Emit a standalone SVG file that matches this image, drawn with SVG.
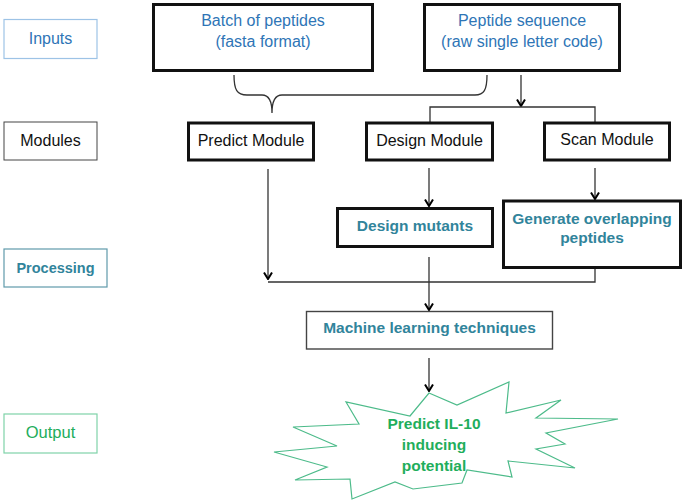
<svg xmlns="http://www.w3.org/2000/svg" width="685" height="503" viewBox="0 0 685 503">
<style>
text{font-family:"Liberation Sans",Arial,sans-serif;text-anchor:middle}
.blue{fill:#2e75b6;font-size:16px}
.blk{fill:#111;font-size:16px}
.teal{fill:#31849b;font-size:15.5px;font-weight:bold}
.green{fill:#1fae5c;font-size:15.5px;font-weight:bold}
.thick{fill:#fff;stroke:#111;stroke-width:3}
.thin{fill:#fff;stroke:#444;stroke-width:1.4}
.con{fill:none;stroke:#333;stroke-width:1.3}
</style>
<defs>
<marker id="arr" viewBox="-8 -5 9 10" refX="0" refY="0" markerWidth="9" markerHeight="10" markerUnits="userSpaceOnUse" orient="auto">
<path d="M-6.5,-4 L0,0 L-6.5,4" fill="none" stroke="#000" stroke-width="2"/>
</marker>
</defs>
<rect width="685" height="503" fill="#fff"/>

<g id="label-inputs">
<rect x="4" y="19.5" width="93" height="39" fill="#fff" stroke="#9dc3e6" stroke-width="1.2"/>
<text x="50.5" y="44" class="blue">Inputs</text>
</g>
<g id="label-modules">
<rect x="4" y="122" width="93" height="38" fill="#fff" stroke="#444" stroke-width="1"/>
<text x="50.5" y="146" class="blk">Modules</text>
</g>
<g id="label-processing">
<rect x="4" y="249" width="103" height="38" fill="#fff" stroke="#5f9aab" stroke-width="1.2"/>
<text x="55.5" y="273" class="teal" style="font-size:14.5px">Processing</text>
</g>
<g id="label-output">
<rect x="4" y="414" width="93" height="39" fill="#fff" stroke="#7fd3a8" stroke-width="1.2"/>
<text x="50.5" y="438" style="fill:#22ad5c;font-size:16.5px">Output</text>
</g>

<g id="connectors">
<path class="con" d="M234,75 C234,90 237,95 247,95 L262,95 C269,95 272,101 272,113 C272,101 275,95 282,95 L475,95 C484,95 487,90 487,75"/>
<path class="con" d="M521,75 V106" marker-end="url(#arr)"/>
<path class="con" d="M430,122 V107 H595 V122"/>
<path class="con" d="M268,169 V279" marker-end="url(#arr)"/>
<path class="con" d="M268,282 H595 V268"/>
<path class="con" d="M429,168 V206" marker-end="url(#arr)"/>
<path class="con" d="M595,168 V199" marker-end="url(#arr)"/>
<path class="con" d="M429,257 V310" marker-end="url(#arr)"/>
<path class="con" d="M429,358 V391" marker-end="url(#arr)"/>
</g>

<g id="batch">
<rect x="153.5" y="4.5" width="219" height="66" class="thick"/>
<text x="263" y="26" class="blue">Batch of peptides</text>
<text x="263" y="47" class="blue">(fasta format)</text>
</g>
<g id="peptide-seq">
<rect x="424.5" y="4.5" width="195" height="66" class="thick"/>
<text x="522" y="26" class="blue">Peptide sequence</text>
<text x="522" y="47" class="blue">(raw single letter code)</text>
</g>

<g id="predict-module">
<rect x="188.5" y="123" width="125" height="37" class="thick"/>
<text x="251" y="146" class="blk">Predict Module</text>
</g>
<g id="design-module">
<rect x="366.5" y="123" width="126" height="37" class="thick"/>
<text x="429.5" y="146" class="blk">Design Module</text>
</g>
<g id="scan-module">
<rect x="544.5" y="123" width="125" height="37" class="thick"/>
<text x="607" y="145" class="blk">Scan Module</text>
</g>

<g id="design-mutants">
<rect x="337.5" y="208.5" width="155" height="38" class="thick"/>
<text x="415" y="231" class="teal">Design mutants</text>
</g>
<g id="generate">
<rect x="503.5" y="201" width="177" height="66.5" class="thick"/>
<text x="592" y="223.5" class="teal">Generate overlapping</text>
<text x="592" y="243" class="teal">peptides</text>
</g>

<g id="ml">
<rect x="306.5" y="311.5" width="246" height="37.5" class="thin"/>
<text x="429.5" y="332.5" class="teal">Machine learning techniques</text>
</g>

<g id="output-star">
<polygon points="429,393 457,405 509,382 506,413 561,400 536,418 618,419 546,433 565,444 536,449 575,468 508,461 512,477 467,470 462,483 413,489 395,482 352,499 350,479 295,480 327,467 274,452 337,446 293,427 359,424 346,402 410,416" fill="#fff" stroke="#4dbb8a" stroke-width="1.2"/>
<text x="434" y="429" class="green">Predict IL-10</text>
<text x="434" y="450" class="green">inducing</text>
<text x="434" y="470.5" class="green">potential</text>
</g>
</svg>
